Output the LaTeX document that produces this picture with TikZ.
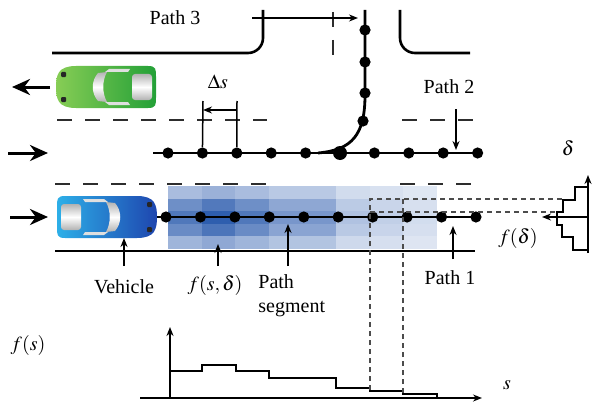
\documentclass[tikz,border=0pt]{standalone}
\usepackage{mathptmx}
\usepackage{fontspec}
\setmainfont{Liberation Serif}
\usetikzlibrary{arrows.meta,positioning}

\definecolor{heat}{RGB}{35,85,170}
\definecolor{lanegray}{RGB}{45,45,45}
\definecolor{carglight}{RGB}{135,205,85}
\definecolor{cargdark}{RGB}{35,160,55}
\definecolor{carblight}{RGB}{45,175,232}
\definecolor{carbdark}{RGB}{30,70,175}

% top view of a car, nose pointing to +x
\tikzset{
  pics/car/.style 2 args={code={
    \shade[left color=#1, right color=#2]
      (-42,-21) -- (30,-21) .. controls (48,-21) and (50,-12) .. (50,0)
      .. controls (50,12) and (48,21) .. (30,21) -- (-42,21)
      .. controls (-50,21) and (-50,18) .. (-50,10) -- (-50,-10)
      .. controls (-50,-18) and (-50,-21) .. (-42,-21) -- cycle;
    % windows
    \shade[top color=gray!60, bottom color=gray!60, middle color=white, rounded corners=1.5pt]
      (-46,-13) rectangle (-26,13);
    \shade[top color=gray!60, bottom color=gray!60, middle color=white]
      (-1,-15) .. controls (4,-6) and (4,6) .. (-1,15) -- (8,14)
      .. controls (15,6) and (15,-6) .. (8,-14) -- cycle;
    \fill[gray!25] (-24,-18) -- (-3,-18) -- (1,-15) -- (-22,-15) -- cycle;
    \fill[gray!25] (-24,18) -- (-3,18) -- (1,15) -- (-22,15) -- cycle;
    % headlights
    \fill[black!85, rounded corners=0.5pt] (40,-15) rectangle (45,-10);
    \fill[black!85, rounded corners=0.5pt] (40,10) rectangle (45,15);
  }}
}

\begin{document}
\begin{tikzpicture}[
  x=0.5pt, y=-0.5pt,
  font=\fontsize{10}{12}\selectfont,
  road/.style={line width=1.3pt, rounded corners=7.5pt},
  lane/.style={line width=1.3pt, lanegray, dash pattern=on 7.5pt off 6.5pt},
  track/.style={line width=1.4pt},
  dot/.style={circle, fill, inner sep=0pt, minimum size=5.6pt},
  bigdot/.style={dot, minimum size=7pt},
  guide/.style={gray!60!black, line width=0.55pt, dash pattern=on 2.5pt off 2pt},
  arr/.style={-{Stealth[length=4.5pt, width=3.5pt]}, line width=0.75pt},
  bigarr/.style={-{Stealth[length=9pt, width=8pt]}, line width=1.5pt},
  axis/.style={-{Stealth[length=4.5pt, width=3.5pt]}, line width=0.9pt},
  hist/.style={line width=0.9pt}
]
  \useasboundingbox (0,0) rectangle (592,401);

  % roads
  \draw[road] (52,53) -- (263,53) -- (263,10);
  \draw[road] (400,10) -- (400,53) -- (470,53);
  \draw[road] (55,251) -- (475,251);

  % cost cells f(s,delta) along path 1
  \foreach \c/\fs in {0/27,1/33,2/27,3/20,4/20,5/10,6/7,7/4}
    \foreach \r/\fd in {0/13,1/25,2/31,3/26,4/15}{
      \pgfmathsetmacro{\lvl}{10+85*(\fs/33)*(\fd/31)}
      \fill[heat!\lvl] ({168+33.6*\c},{186+12.6*\r}) rectangle ++(33.6,12.6);
    }

  % lane markings
  \draw[lane] (57,120) -- (267,120);
  \draw[lane] (402,120) -- (473,120);
  \draw[lane] (55,184) -- (266,184);
  \draw[lane] (400,184) -- (473,184);
  \draw[lane] (333,12) -- (333,55);

  % cars and traffic direction
  \pic[rotate=180] at (106,87) {car={carglight}{cargdark}};
  \pic at (107,217) {car={carblight}{carbdark}};
  \draw[bigarr] (50,87) -- (12,87);
  \draw[bigarr] (8,153) -- (48,153);
  \draw[bigarr] (10,217) -- (48,217);

  % path 2 and path 3
  \draw[track] (153,153) -- (478,153);
  \draw[track] (365,10) -- (365,95) .. controls (365,135) and (352,150) .. (318,153);
  \foreach \i in {0,...,9}
    \node[dot] (b\i) at ({168+34.4*\i},153) {};
  \node[bigdot] (junc) at (b5) {};
  \foreach \i/\y in {1/30,2/62,3/93}
    \node[dot] (c\i) at (365,\y) {};
  \node[dot] (c4) at (363,121) {};

  % path 1
  \draw[track] (157,217) -- (476,217);
  \foreach \i in {0,...,9}
    \node[dot] (a\i) at ({166+34.44*\i},217) {};

  % spacing of the samples
  \coordinate (ds1) at (203,101);
  \coordinate (ds2) at (237,101);
  \draw[line width=0.75pt] (b1) -- (ds1);
  \draw[line width=0.75pt] (b2) -- (ds2);
  \draw[arr, {Stealth[length=4.5pt, width=3.5pt]}-] (203,110) -- (237,110);
  \node (dslabel) at (218,82) {$\Delta s$};

  % labels with pointers
  \node (lpath3) at (175,18) {Path 3};
  \coordinate (p3tail) at (252,18);
  \coordinate (p3tip) at (358,18);
  \draw[arr] (p3tail) -- (p3tip);

  \node (lpath2) at (449,87) {Path 2};
  \coordinate (p2tail) at (456,109);
  \coordinate (p2tip) at (456,150);
  \draw[arr] (p2tail) -- (p2tip);

  \node (lveh) at (124,287) {Vehicle};
  \coordinate (vehtail) at (124,266);
  \coordinate (vehtip) at (124,238);
  \draw[arr] (vehtail) -- (vehtip);

  \node (lcost) at (215,285) {$f(s,\delta)$};
  \coordinate (costtail) at (218,266);
  \coordinate (costtip) at (218,244);
  \draw[arr] (costtail) -- (costtip);

  \node[align=left, anchor=north west, inner sep=0pt] (lseg) at (258,274) {Path\\segment};
  \coordinate (segtail) at (288,266);
  \coordinate (segtip) at (288,224);
  \draw[arr] (segtail) -- (segtip);

  \node (lpath1) at (450,278) {Path 1};
  \coordinate (p1tail) at (453,259);
  \coordinate (p1tip) at (453,226);
  \draw[arr] (p1tail) -- (p1tip);

  % longitudinal profile f(s)
  \draw[axis] (140,398) -- (482,398);
  \draw[axis] (170,398) -- (170,327);
  \draw[hist] (170,371) -| (202,365) -| (236,371) -| (269,378) -| (336,388)
    -| (370,391) -| (403,394) -| (437,398);
  \node (lfs) at (28,345) {$f(s)$};
  \node (ls) at (507,385) {$s$};

  % lateral profile f(delta)
  \draw[axis] (588,253) -- (588,175);
  \draw[axis] (588,217) -- (542,217);
  \draw[hist] (588,187) -- (575,187) |- (563,200) |- (557,212) |- (562,225)
    |- (573,237) |- (588,250);
  \node (ldelta) at (568,148) {$\delta$};
  \node (lfd) at (518,238) {$f(\delta)$};

  % projection of one cell onto both profiles
  \draw[guide] (370,390) -- (370,199) -- (563,199);
  \draw[guide] (403,393) -- (403,199);
  \draw[guide] (370,212) -- (557,212);
\end{tikzpicture}
\end{document}
